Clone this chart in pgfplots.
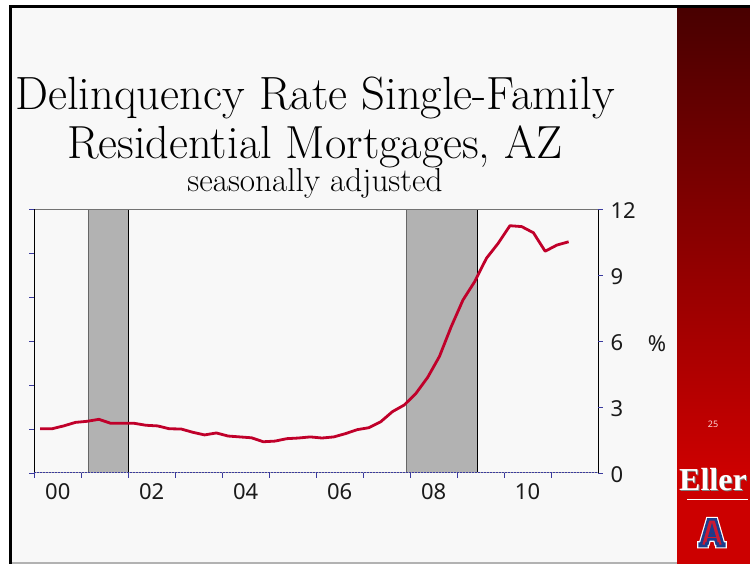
\documentclass[border=0pt]{standalone}
\usepackage{pgfplots}
\pgfplotsset{compat=1.18}
\usepackage{fontspec}
\newfontfamily\tickfont{Noto Sans}
\newfontfamily\ellerfont{Liberation Serif}
\definecolor{slidebg}{HTML}{F8F8F8}
\definecolor{sidetop}{HTML}{480000}
\definecolor{sidebot}{HTML}{CC0000}
\definecolor{linered}{HTML}{C0002A}
\definecolor{recgray}{HTML}{B2B2B2}
\definecolor{tickblue}{HTML}{3A3A9E}
\definecolor{labelblack}{HTML}{1A1A1A}
\definecolor{uablue}{HTML}{1C3C8C}
\definecolor{uared}{HTML}{CC1A33}

\pgfplotstableread{
t v
2000.125 2.01
2000.375 2.01
2000.625 2.14
2000.875 2.30
2001.125 2.35
2001.375 2.44
2001.625 2.26
2001.875 2.26
2002.125 2.26
2002.375 2.17
2002.625 2.14
2002.875 2.01
2003.125 2.00
2003.375 1.85
2003.625 1.73
2003.875 1.82
2004.125 1.68
2004.375 1.64
2004.625 1.60
2004.875 1.42
2005.125 1.45
2005.375 1.56
2005.625 1.59
2005.875 1.64
2006.125 1.59
2006.375 1.64
2006.625 1.79
2006.875 1.97
2007.125 2.06
2007.375 2.33
2007.625 2.79
2007.875 3.09
2008.125 3.62
2008.375 4.35
2008.625 5.30
2008.875 6.65
2009.125 7.86
2009.375 8.70
2009.625 9.76
2009.875 10.44
2010.125 11.24
2010.375 11.20
2010.625 10.92
2010.875 10.08
2011.125 10.36
2011.375 10.51
}\delinq

\begin{document}
\begin{tikzpicture}
\begin{scope}[x=1pt,y=1pt]
\path[use as bounding box] (0,0) rectangle (750,564);
\fill[white] (0,0) rectangle (750,564);
\fill[slidebg] (10.5,0) rectangle (677,557);
\draw[gray!60, line width=1.5pt] (10.5,0.8) -- (677,0.8);
\shade[top color=sidetop, bottom color=sidebot] (677,94) rectangle (750,557);
\fill[sidebot] (677,0) rectangle (750,94.5);
\draw[black, line width=2.5pt] (10.7,0) -- (10.7,557.5) -- (750,557.5);
% title
\node[anchor=base, inner sep=0pt] at (315,454) {\fontsize{46.6}{46.6}\selectfont Delinquency Rate Single-Family};
\node[anchor=base, inner sep=0pt] at (315,405) {\fontsize{46.4}{46.4}\selectfont Residential Mortgages, AZ};
\node[anchor=base, inner sep=0pt] at (315,372) {\fontsize{33.2}{33.2}\selectfont seasonally adjusted};
% percent
\node[text=labelblack, inner sep=0pt] at (657,220) {\tickfont\fontsize{22}{22}\selectfont \%};
% sidebar texts
\node[text=white!85!red, inner sep=0pt] at (713,140) {\tickfont\fontsize{9}{9}\selectfont 25};
\node[text=black!50, inner sep=0pt] at (714,83) {\ellerfont\bfseries\fontsize{32}{32}\selectfont Eller};
\node[text=white, inner sep=0pt] at (713,84) {\ellerfont\bfseries\fontsize{32}{32}\selectfont Eller};
\draw[white, line width=1pt] (687,64) -- (748,64);
% block A logo drawn as a shape
\begin{scope}[shift={(712,18)}, scale=0.95]
\path[draw=white, line width=5pt, line join=miter]
  (-13,0) -- (-6,0) -- (-6,2.5) -- (-4.8,2.5) -- (-3.6,7) -- (3.6,7) -- (4.8,2.5) -- (6,2.5) -- (6,0) -- (13,0) -- (13,2.5) -- (11.4,2.5) -- (4,28) -- (-4,28) -- (-11.4,2.5) -- (-13,2.5) -- cycle;
\path[draw=uablue, line width=2.6pt, line join=miter, fill=uared, even odd rule]
  (-13,0) -- (-6,0) -- (-6,2.5) -- (-4.8,2.5) -- (-3.6,7) -- (3.6,7) -- (4.8,2.5) -- (6,2.5) -- (6,0) -- (13,0) -- (13,2.5) -- (11.4,2.5) -- (4,28) -- (-4,28) -- (-11.4,2.5) -- (-13,2.5) -- cycle
  (-2.4,11) -- (2.4,11) -- (0,19.5) -- cycle;
\end{scope}
\end{scope}

\begin{axis}[
  at={(34.3pt,91pt)}, anchor=south west,
  scale only axis, width=563.7pt, height=264pt,
  xmin=2000, xmax=2012, ymin=0, ymax=12,
  axis line style={draw=none},
  xtick={2000,...,2011}, xticklabels={},
  extra x ticks={2000.5,2002.5,2004.5,2006.5,2008.5,2010.5},
  extra x tick labels={00,02,04,06,08,10},
  extra x tick style={major tick length=0pt},
  ytick={0,2,...,12}, yticklabels={},
  xtick pos=lower, ytick pos=left,
  tick align=outside, major tick length=5pt,
  tick style={color=tickblue, line width=0.9pt},
  xticklabel style={font=\tickfont\fontsize{22}{22}\selectfont, text=labelblack, yshift=-7pt},
  clip=false,
]
\addplot[fill=recgray, draw=none] coordinates {(2001.15,0) (2001.15,12) (2002,12) (2002,0)} -- cycle;
\addplot[fill=recgray, draw=none] coordinates {(2007.92,0) (2007.92,12) (2009.43,12) (2009.43,0)} -- cycle;
\addplot[black!60, line width=1pt] coordinates {(2001.15,0) (2001.15,12)};
\addplot[black, line width=0.8pt] coordinates {(2002,0) (2002,12)};
\addplot[black!60, line width=1pt] coordinates {(2007.92,0) (2007.92,12)};
\addplot[black, line width=0.8pt] coordinates {(2009.43,0) (2009.43,12)};
\draw[black!55, line width=0.9pt] (axis cs:2000,12) -- (axis cs:2012,12);
\draw[black, line width=0.8pt] (axis cs:2000,0) -- (axis cs:2000,12);
\draw[black, line width=0.8pt] (axis cs:2012,0) -- (axis cs:2012,12);
\draw[gray!70, line width=1pt] (axis cs:2000,0) -- (axis cs:2012,0);
\draw[tickblue, line width=1pt, dash pattern=on 1.5pt off 1.5pt] (axis cs:2000,0) -- (axis cs:2012,0);
\addplot[linered, line width=2.8pt, line join=round] table[x=t, y=v] {\delinq};
\end{axis}

\begin{axis}[
  at={(34.3pt,91pt)}, anchor=south west,
  scale only axis, width=563.7pt, height=264pt,
  xmin=2000, xmax=2012, ymin=0, ymax=12,
  hide x axis,
  axis y line*=right,
  y axis line style={draw=none},
  ytick={0,3,...,12},
  tick align=outside, major tick length=5pt,
  tick style={color=tickblue, line width=0.9pt},
  /pgf/number format/assume math mode=true,
  yticklabel style={font=\tickfont\fontsize{22}{22}\selectfont, text=labelblack, xshift=4pt, yshift=-1.5pt},
]
\addplot[draw=none] coordinates {(2000,0) (2012,12)};
\end{axis}
\end{tikzpicture}
\end{document}
